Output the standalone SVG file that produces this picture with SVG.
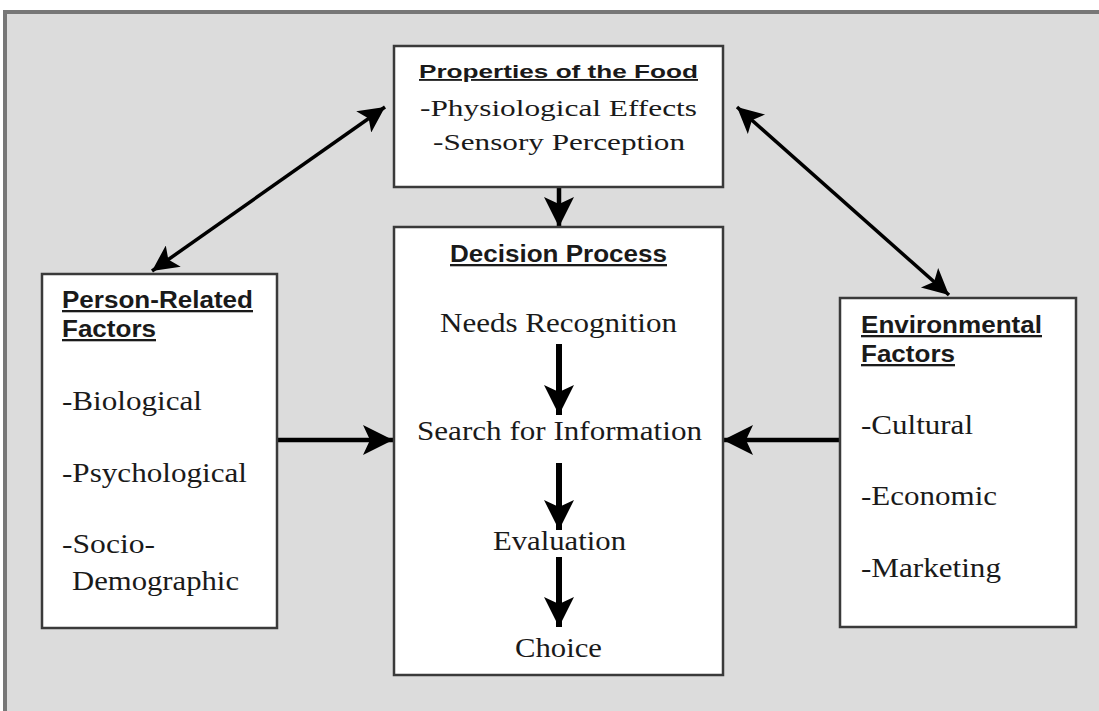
<svg xmlns="http://www.w3.org/2000/svg" width="1099" height="711" viewBox="0 0 1099 711">
  <style>
    .box { fill: #ffffff; stroke: #3a3a3a; stroke-width: 2.5; }
    .title { font-family: "Liberation Sans", Arial, sans-serif; font-weight: bold; fill: #1a1a1a; text-decoration: underline; }
    .item { font-family: "Liberation Serif", "Times New Roman", serif; fill: #1a1a1a; }
    .conn { stroke: #000; fill: none; }
  </style>
  <defs>
    <marker id="head" viewBox="0 0 30 30" refX="30" refY="15" markerUnits="userSpaceOnUse" markerWidth="30" markerHeight="30" orient="auto-start-reverse">
      <path d="M0,0 L30,15 L0,30 L7,15 Z" fill="#000"/>
    </marker>
    <marker id="headBig" viewBox="0 0 30 30" refX="30" refY="15" markerUnits="userSpaceOnUse" markerWidth="30" markerHeight="32" orient="auto-start-reverse">
      <path d="M0,0 L30,15 L0,30 L7,15 Z" fill="#000"/>
    </marker>
    <marker id="headSm" viewBox="0 0 30 30" refX="30" refY="15" markerUnits="userSpaceOnUse" markerWidth="28" markerHeight="26" orient="auto-start-reverse">
      <path d="M0,0 L30,15 L0,30 L7,15 Z" fill="#000"/>
    </marker>
  </defs>

  <rect x="0" y="0" width="1099" height="711" fill="#ffffff"/>
  <rect id="frame" x="5" y="12" width="1200" height="800" fill="#dcdcdc" stroke="#777777" stroke-width="4"/>

  <g id="connectors">
    <line class="conn" x1="559" y1="187" x2="559" y2="227" stroke-width="4.5" marker-end="url(#head)"/>
    <line class="conn" x1="277" y1="440" x2="393" y2="440" stroke-width="4.5" marker-end="url(#head)"/>
    <line class="conn" x1="840" y1="440" x2="723" y2="440" stroke-width="4.5" marker-end="url(#head)"/>
    <line class="conn" x1="152" y1="271" x2="385" y2="107" stroke-width="3.5" marker-start="url(#headSm)" marker-end="url(#headSm)"/>
    <line class="conn" x1="737" y1="107" x2="949" y2="295" stroke-width="3.5" marker-start="url(#headSm)" marker-end="url(#headSm)"/>
  </g>

  <g id="food">
    <rect class="box" x="394" y="46" width="329" height="141"/>
    <text class="title" x="419" y="78" font-size="18.5" textLength="279" lengthAdjust="spacingAndGlyphs">Properties of the Food</text>
    <text class="item" x="420" y="116" font-size="23" textLength="277" lengthAdjust="spacingAndGlyphs">-Physiological Effects</text>
    <text class="item" x="433" y="150" font-size="23" textLength="252" lengthAdjust="spacingAndGlyphs">-Sensory Perception</text>
  </g>

  <g id="decision">
    <rect class="box" x="394" y="227" width="329" height="448"/>
    <text class="title" x="450" y="262" font-size="23" textLength="217" lengthAdjust="spacingAndGlyphs">Decision Process</text>
    <text class="item" x="440" y="332" font-size="28" textLength="237" lengthAdjust="spacingAndGlyphs">Needs Recognition</text>
    <text class="item" x="417" y="440" font-size="28" textLength="285" lengthAdjust="spacingAndGlyphs">Search for Information</text>
    <text class="item" x="493" y="550" font-size="28" textLength="133" lengthAdjust="spacingAndGlyphs">Evaluation</text>
    <text class="item" x="515" y="657" font-size="28" textLength="87" lengthAdjust="spacingAndGlyphs">Choice</text>
    <g id="process-arrows">
      <line class="conn" x1="559" y1="344" x2="559" y2="415" stroke-width="6" marker-end="url(#headBig)"/>
      <line class="conn" x1="559" y1="463" x2="559" y2="530" stroke-width="6" marker-end="url(#headBig)"/>
      <line class="conn" x1="559" y1="557" x2="559" y2="627" stroke-width="6" marker-end="url(#headBig)"/>
    </g>
  </g>

  <g id="person">
    <rect class="box" x="42" y="274" width="235" height="354"/>
    <text class="title" x="62" y="308" font-size="23" textLength="191" lengthAdjust="spacingAndGlyphs">Person-Related</text>
    <text class="title" x="62" y="337" font-size="23" textLength="94" lengthAdjust="spacingAndGlyphs">Factors</text>
    <text class="item" x="62" y="410" font-size="28" textLength="140" lengthAdjust="spacingAndGlyphs">-Biological</text>
    <text class="item" x="62" y="482" font-size="28" textLength="185" lengthAdjust="spacingAndGlyphs">-Psychological</text>
    <text class="item" x="62" y="553" font-size="28" textLength="93" lengthAdjust="spacingAndGlyphs">-Socio-</text>
    <text class="item" x="72" y="590" font-size="28" textLength="167" lengthAdjust="spacingAndGlyphs">Demographic</text>
  </g>

  <g id="environment">
    <rect class="box" x="840" y="298" width="236" height="329"/>
    <text class="title" x="861" y="333" font-size="23" textLength="181" lengthAdjust="spacingAndGlyphs">Environmental</text>
    <text class="title" x="861" y="362" font-size="23" textLength="94" lengthAdjust="spacingAndGlyphs">Factors</text>
    <text class="item" x="861" y="434" font-size="28" textLength="112" lengthAdjust="spacingAndGlyphs">-Cultural</text>
    <text class="item" x="861" y="505" font-size="28" textLength="136" lengthAdjust="spacingAndGlyphs">-Economic</text>
    <text class="item" x="861" y="577" font-size="28" textLength="140" lengthAdjust="spacingAndGlyphs">-Marketing</text>
  </g>
</svg>
